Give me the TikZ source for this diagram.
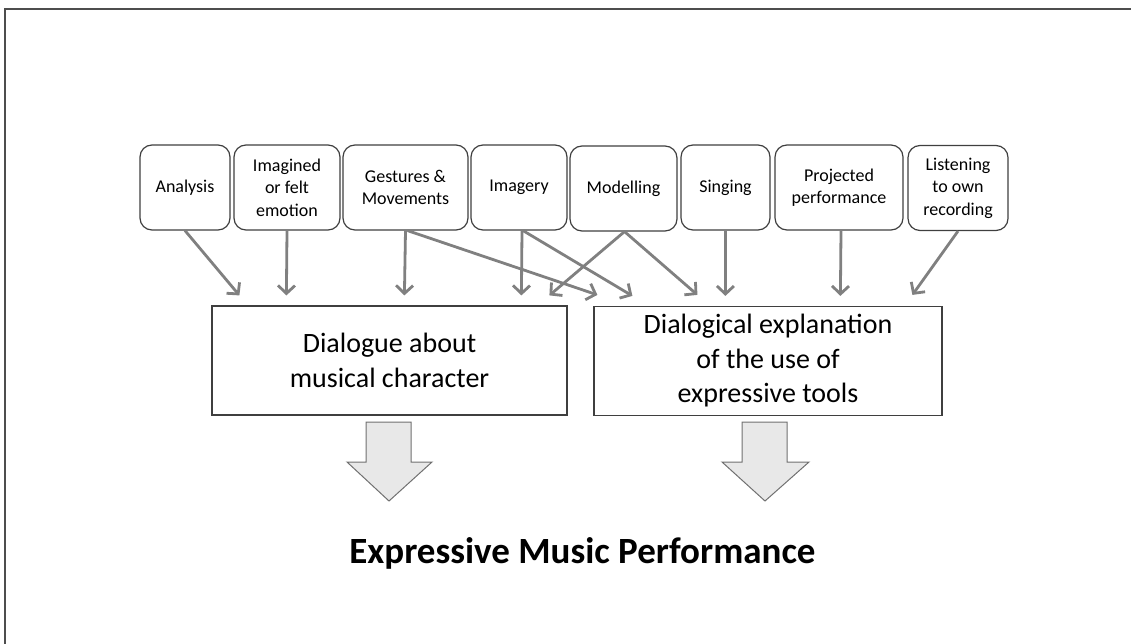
\documentclass[tikz,border=0pt]{standalone}
\usepackage{fontspec}
\setmainfont{Carlito}
\usetikzlibrary{arrows.meta,calc}
\definecolor{framegray}{HTML}{4D4D4D}
\definecolor{boxline}{HTML}{3F3F3F}
\definecolor{arrowgray}{HTML}{808080}
\definecolor{bigfill}{HTML}{E8E8E8}
\definecolor{bigline}{HTML}{707070}
\tikzset{
  tool/.style={draw=boxline, line width=1.2pt, rounded corners=12pt,
    minimum height=85pt, align=center, inner sep=2pt,
    font=\fontsize{18}{22.5}\selectfont},
  stage/.style={draw=boxline, line width=1.2pt, minimum height=109pt,
    align=center, font=\fontsize{28}{34.5}\selectfont},
  link/.style={draw=arrowgray, line width=2.8pt,
    -{Straight Barb[length=8pt,width=17pt]}},
  bigarrow/.style={fill=bigfill, draw=bigline, line width=1pt, line join=miter},
}
\begin{document}
\begin{tikzpicture}[x=1pt,y=-1pt]
\useasboundingbox (0,0) rectangle (1131,644);
% outer frame (left and top edges)
\draw[framegray, line width=2.4pt] (5,644) -- (5,9) -- (1131,9);

% expressive tools
\node[tool, minimum width=90pt]  (analysis)  at (185,187.5)   {Analysis};
\node[tool, minimum width=106pt] (emotion)   at (287,187.5)   {Imagined\\or felt\\emotion};
\node[tool, minimum width=125pt] (gestures)  at (405.5,187.5) {Gestures \&\\Movements};
\node[tool, minimum width=96pt]  (imagery)   at (519,187.5)   {Imagery};
\node[tool, minimum width=107pt] (modelling) at (623.5,188.5) {Modelling};
\node[tool, minimum width=89pt]  (singing)   at (725.5,187.5) {Singing};
\node[tool, minimum width=128pt] (projected) at (839,187.5)   {Projected\\performance};
\node[tool, minimum width=100pt] (listening) at (958,188)     {Listening\\to own\\recording};

% dialogue stages
\node[stage, minimum width=355pt] (dlg) at (389.5,360.5) {Dialogue about\\musical character};
\node[stage, minimum width=348pt] (dex) at (768,361) {Dialogical explanation\\of the use of\\expressive tools};

% arrow ends just above the stage boxes
\coordinate (a1) at ([shift={(28,-10)}]dlg.north west);
\coordinate (a2) at ([shift={(75,-10)}]dlg.north west);
\coordinate (a3) at ([shift={(193,-10)}]dlg.north west);
\coordinate (a4) at ([shift={(310,-10)}]dlg.north west);
\coordinate (a5) at ([shift={(338,-10)}]dlg.north west);
\coordinate (b1) at ([shift={(4,-11)}]dex.north west);
\coordinate (b2) at ([shift={(39,-10)}]dex.north west);
\coordinate (b3) at ([shift={(104,-11)}]dex.north west);
\coordinate (b4) at ([shift={(132,-10)}]dex.north west);
\coordinate (b5) at ([shift={(247,-10)}]dex.north west);
\coordinate (b6) at ([shift={(319,-11)}]dex.north west);

\draw[link] (analysis.south) -- (a1);
\draw[link] (emotion.south) -- (a2);
\draw[link] (gestures.south) -- (a3);
\draw[link] ([xshift=2pt]gestures.south) -- (b1);
\draw[link] ([xshift=3pt]imagery.south) -- (a4);
\draw[link] ([xshift=4pt]imagery.south) -- (b2);
\draw[link] ([xshift=1pt]modelling.south) -- (a5);
\draw[link] ([xshift=1pt]modelling.south) -- (b3);
\draw[link] (singing.south) -- (b4);
\draw[link] ([xshift=2pt]projected.south) -- (b5);
\draw[link] (listening.south) -- (b6);

% block arrows into the outcome
\begin{scope}[shift={(389,422)}]
  \draw[bigarrow] (-23,0) -- (22,0) -- (22,40) -- (43,40) -- (0,79) -- (-42,40) -- (-23,40) -- cycle;
\end{scope}
\begin{scope}[shift={(765,422)}]
  \draw[bigarrow] (-23,0) -- (22,0) -- (22,40) -- (44,40) -- (0,79) -- (-43,40) -- (-23,40) -- cycle;
\end{scope}

\node[anchor=base, font=\bfseries\fontsize{37}{44}\selectfont, inner sep=0pt]
  (outcome) at (582.5,563) {Expressive Music Performance};
\end{tikzpicture}
\end{document}
